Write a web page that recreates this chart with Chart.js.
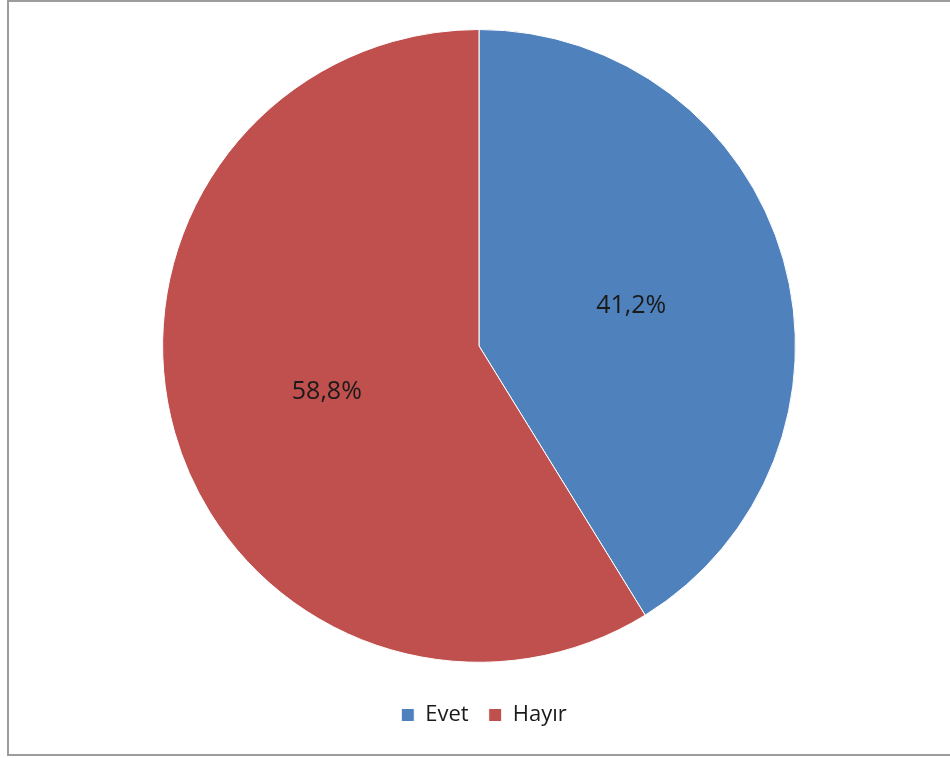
<!DOCTYPE html>
<html>
<head>
<meta charset="utf-8">
<script src="https://cdn.jsdelivr.net/npm/chart.js@4.4.1/dist/chart.umd.min.js"></script>
<style>
  html, body { margin: 0; padding: 0; background: #ffffff; overflow: hidden; }
  #frame { position: absolute; left: 7px; top: 0px; width: 960px; height: 756px;
           border: 2px solid #9c9c9c; border-right: none; box-sizing: border-box; }
  #wrap { position: absolute; left: 0; top: 0; width: 950px; height: 758px; }
</style>
</head>
<body>
<div id="frame"></div>
<div id="wrap"><canvas id="c"></canvas></div>
<script>
const categories = ['Evet', 'Hayır'];
const values = [41.2, 58.8];
const colors = ['#4F81BD', '#C0504D'];

const FONT = '"Open Sans", "DejaVu Sans", sans-serif';

const labelPlugin = {
  id: 'sliceLabels',
  afterLayout(chart) {
    // nudge legend slightly right to match reference centering
    chart.legend.left += 5;
    chart.legend.right += 5;
  },
  afterDatasetsDraw(chart) {
    const ctx = chart.ctx;
    const meta = chart.getDatasetMeta(0);
    ctx.save();
    ctx.font = '25px ' + FONT;
    ctx.fillStyle = '#1a1a1a';
    ctx.textAlign = 'center';
    ctx.textBaseline = 'middle';
    meta.data.forEach((arc, i) => {
      const p = arc.tooltipPosition();
      ctx.fillText(values[i].toFixed(1).replace('.', ',') + '%', p.x, p.y + 3);
    });
    ctx.restore();
  }
};

new Chart(document.getElementById('c'), {
  type: 'pie',
  data: {
    labels: categories,
    datasets: [{
      data: values,
      backgroundColor: colors,
      borderColor: '#ffffff',
      borderWidth: 1
    }]
  },
  options: {
    responsive: true,
    maintainAspectRatio: false,
    animation: false,
    layout: { padding: { top: 29, left: 8, right: 0, bottom: 22 } },
    plugins: {
      tooltip: { enabled: false },
      legend: {
        position: 'bottom',
        title: { display: true, text: ' ', font: { size: 1 }, padding: { top: 20, bottom: 0 } },
        labels: {
          boxWidth: 13,
          boxHeight: 13,
          padding: 20,
          color: '#1a1a1a',
          font: { size: 22, family: FONT }
        }
      }
    }
  },
  plugins: [labelPlugin]
});
</script>
</body>
</html>
